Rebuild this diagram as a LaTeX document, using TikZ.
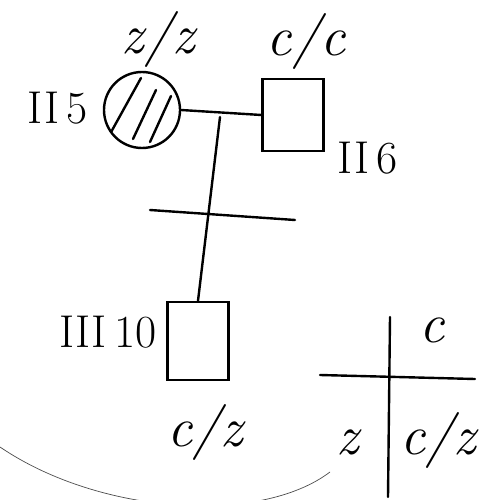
\documentclass[tikz,border=0pt]{standalone}
\usepackage{tikz}
\usetikzlibrary{positioning}

\tikzset{
  hand/.style={line width=2.4pt, line cap=round},
  lbl/.style={font=\fontsize{56}{56}\selectfont\itshape, inner sep=0pt},
  gen/.style={font=\fontsize{46}{46}\selectfont, inner sep=0pt},
}

\begin{document}
\begin{tikzpicture}[x=1pt,y=-1pt]
  \useasboundingbox (0,0) rectangle (494,500);
  % parents
  \node[circle,draw,hand,minimum size=76pt,inner sep=0pt] (m5) at (142,110) {};
  \node[draw,hand,minimum width=61pt,minimum height=72pt] (f6) at (293,115) {};
  \begin{scope}
    \clip (m5.center) circle (37pt);
    \foreach \a/\b in {{(110,134)}/{(141,78)},{(133,139)}/{(156,90)},{(150,142)}/{(171,96)}}{
      \draw[hand] \a -- \b;
    }
  \end{scope}
  \node[gen] (n5) at (58,108) {II\,5};
  \node[gen] (n6) at (368,158) {II\,6};
  \node[lbl] (g5) at (158,40) {z/z};
  \node[lbl] (g6) at (306,42) {c/c};
  % child
  \node[draw,hand,minimum width=61pt,minimum height=78pt] (s10) at (198,341) {};
  \node[gen] (n10) at (108,332) {III\,10};
  \node[lbl] (g10) at (205,432) {c/z};
  \coordinate (mid) at (220,117);
  \coordinate (sl) at (150,210);
  \coordinate (sr) at (295,220);
  \draw[hand] (m5.east) -- (f6.west);
  \draw[hand] (mid) -- (s10.north);
  \draw[hand] (sl) -- (sr);
  % punnett square
  \coordinate (pt) at (390,317);
  \coordinate (pb) at (388,497);
  \coordinate (pl) at (320,375);
  \coordinate (pr) at (475,379);
  \draw[hand] (pt) -- (pb);
  \draw[hand] (pl) -- (pr);
  \node[lbl] (pc) at (432,330) {c};
  \node[lbl] (pz) at (348,442) {z};
  \node[lbl] (pcz) at (438,440) {c/z};
  % paper edge
  \draw[line width=0.7pt,black!70] (0,447) .. controls (100,515) and (260,525) .. (330,472);
\end{tikzpicture}
\end{document}
